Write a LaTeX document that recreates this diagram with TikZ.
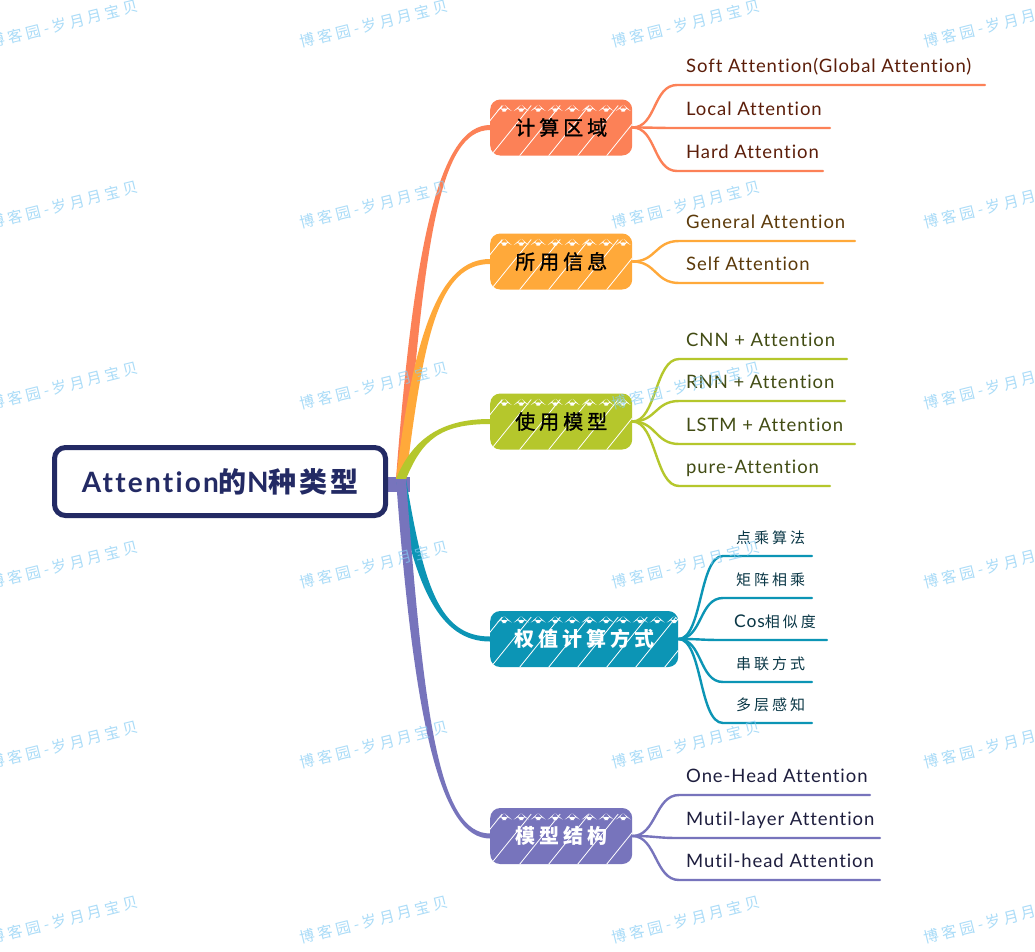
\documentclass[tikz,border=0pt]{standalone}
\usepackage{fontspec}
\setmainfont[Ligatures=NoCommon]{Lato}
\newfontfamily\cjk{Noto Sans CJK SC}
\newfontfamily\cjkw[LetterSpace=20]{Noto Sans CJK SC}
\newfontfamily\cjkm[LetterSpace=20,FakeBold=1.2]{Noto Sans CJK SC}
\newfontfamily\latw[LetterSpace=5,Ligatures=NoCommon]{Lato}
\newfontfamily\latr[LetterSpace=8,Ligatures=NoCommon]{Lato}
\newfontfamily\cjkr[LetterSpace=10]{Noto Sans CJK SC}
\newfontfamily\wmf[LetterSpace=22]{Noto Sans CJK SC}
\usetikzlibrary{calc}
\pgfdeclarelayer{bg}
\pgfdeclarelayer{fg}
\pgfsetlayers{bg,main,fg}
\definecolor{navy}{RGB}{35,42,100}
\definecolor{corange}{RGB}{252,129,87}
\definecolor{cyellow}{RGB}{255,169,58}
\definecolor{cgreen}{RGB}{181,199,44}
\definecolor{cteal}{RGB}{12,149,181}
\definecolor{cpurple}{RGB}{119,116,188}
\definecolor{torange}{RGB}{92,30,10}
\definecolor{tyellow}{RGB}{92,58,10}
\definecolor{tgreen}{RGB}{66,76,20}
\definecolor{tteal}{RGB}{10,55,70}
\definecolor{tpurple}{RGB}{30,30,62}
\definecolor{wmblue}{RGB}{134,205,245}
\newcommand\lf[9]{%
  \coordinate (s#1) at (#4,#5);
  \coordinate (e#1) at (#6,#5);
  \node[leaftext, text=#7] (t#1) at (#8,{#5-13}) {#9};
  \begin{pgfonlayer}{bg}
    \draw[leafline, #3] (#2.east) .. controls +(24,0) and +(-24,0) .. (s#1) -- (e#1);
  \end{pgfonlayer}
}
\begin{document}
\begin{tikzpicture}[x=1pt,y=-1pt,
  rootbox/.style={draw=navy, line width=5pt, fill=white, rounded corners=11pt,
    minimum width=331pt, minimum height=68pt, inner sep=0pt, text=navy,
    font=\fontsize{28}{32}\selectfont\bfseries},
  branchbox/.style={rounded corners=10pt, minimum width=142pt, minimum height=56pt,
    inner sep=0pt, anchor=west, font=\cjkm\fontsize{20}{24}\selectfont,
    path picture={
      \foreach \k in {0,...,10}{
        \fill[white] ([xshift=\k*17pt+6pt, yshift=-12pt]path picture bounding box.north west)
           -- ++(8pt,7pt) -- ++(8pt,-7pt) -- cycle;
      }
      \foreach \k in {0,...,8}{
        \draw[white, line width=0.8pt] ([xshift=\k*29pt-30pt, yshift=-2pt]path picture bounding box.south west)
           -- ++(42pt,52pt);
      }
    }},
  leaftext/.style={anchor=base west, inner sep=0pt, font=\latw\fontsize{18.5}{22}\selectfont},
  leafline/.style={line width=2.4pt, line cap=round},
  wm/.style={rotate=14, text=wmblue, opacity=0.7, font=\wmf\fontsize{15}{17}\selectfont}
]
\useasboundingbox (0,0) rectangle (1035,951);
\begin{pgfonlayer}{bg}
  \fill[white] (0,0) rectangle (1035,951);
\end{pgfonlayer}

% root
\node[rootbox] (root) at (220,481.5) {{\latr Attention}{\cjkr 的}{\latr N}{\cjkr 种类型}};

% branches
\node[branchbox, fill=corange] (b1) at (490,127.5) {计算区域};
\node[branchbox, fill=cyellow] (b2) at (490,261.5) {所用信息};
\node[branchbox, fill=cgreen]  (b3) at (490,421.5) {使用模型};
\node[branchbox, fill=cteal, minimum width=188pt, text=white, font=\cjkw\fontsize{20}{24}\selectfont\bfseries] (b4) at (490,639) {权值计算方式};
\node[branchbox, fill=cpurple, text=white, font=\cjkw\fontsize{20}{24}\selectfont\bfseries] (b5) at (490,836) {模型结构};

% trunks
\coordinate (hub) at (401,479);
\begin{pgfonlayer}{bg}
  \fill[cpurple] ([yshift=5pt]root.east) rectangle (410,492);
  \fill[corange] ([xshift=-5pt]hub) .. controls (414,240) and (440,125) .. ([yshift=2.5pt]b1.west)
     -- ([yshift=-2.5pt]b1.west) .. controls (440,130) and (424,240) .. ([xshift=5pt]hub) -- cycle;
  \fill[cyellow] ([xshift=-5pt]hub) .. controls (414,331) and (440,259) .. ([yshift=2.5pt]b2.west)
     -- ([yshift=-2.5pt]b2.west) .. controls (440,264) and (424,331) .. ([xshift=5pt]hub) -- cycle;
  \fill[cgreen] ([xshift=-5pt]hub) .. controls (412,440) and (440,419) .. ([yshift=2.5pt]b3.west)
     -- ([yshift=-2.5pt]b3.west) .. controls (440,424) and (422,440) .. ([xshift=5pt]hub) -- cycle;
  \fill[cteal] ([xshift=-5pt]hub) .. controls (414,588) and (440,641.5) .. ([yshift=-2.5pt]b4.west)
     -- ([yshift=2.5pt]b4.west) .. controls (440,636.5) and (424,588) .. ([xshift=5pt]hub) -- cycle;
  \fill[cpurple] ([xshift=-5pt]hub) .. controls (414,722) and (440,838.5) .. ([yshift=-2.5pt]b5.west)
     -- ([yshift=2.5pt]b5.west) .. controls (440,833.5) and (424,722) .. ([xshift=5pt]hub) -- cycle;
\end{pgfonlayer}

% leaves: id, branch, linecolor, sx, y, ex, textcolor, tx, text
\lf{11}{b1}{corange}{677}{85}{985}{torange}{686}{Soft Attention(Global Attention)}
\lf{12}{b1}{corange}{677}{128}{830}{torange}{686}{Local Attention}
\lf{13}{b1}{corange}{677}{171}{823}{torange}{686}{Hard Attention}

\lf{21}{b2}{cyellow}{679}{241}{855}{tyellow}{686}{General Attention}
\lf{22}{b2}{cyellow}{679}{283}{823}{tyellow}{686}{Self Attention}

\lf{31}{b3}{cgreen}{679}{359}{847}{tgreen}{686}{CNN + Attention}
\lf{32}{b3}{cgreen}{679}{401}{845}{tgreen}{686}{RNN + Attention}
\lf{33}{b3}{cgreen}{679}{444}{855}{tgreen}{686}{LSTM + Attention}
\lf{34}{b3}{cgreen}{679}{486}{830}{tgreen}{686}{pure-Attention}

\lf{41}{b4}{cteal}{723}{556}{812}{tteal}{736}{\cjkw\fontsize{15}{18}\selectfont 点乘算法}
\lf{42}{b4}{cteal}{723}{598}{812}{tteal}{736}{\cjkw\fontsize{15}{18}\selectfont 矩阵相乘}
\lf{43}{b4}{cteal}{723}{640}{827}{tteal}{734}{{\latw\fontsize{17.5}{20}\selectfont Cos}{\cjkw\fontsize{15}{18}\selectfont 相似度}}
\lf{44}{b4}{cteal}{723}{682}{812}{tteal}{736}{\cjkw\fontsize{15}{18}\selectfont 串联方式}
\lf{45}{b4}{cteal}{723}{723}{812}{tteal}{736}{\cjkw\fontsize{15}{18}\selectfont 多层感知}

\lf{51}{b5}{cpurple}{679}{795}{870}{tpurple}{686}{One-Head Attention}
\lf{52}{b5}{cpurple}{679}{838}{880}{tpurple}{686}{Mutil-layer Attention}
\lf{53}{b5}{cpurple}{679}{880}{880}{tpurple}{686}{Mutil-head Attention}

% watermarks
\begin{pgfonlayer}{fg}
  \foreach \wy [count=\r] in {24,205,386,565,745,920}{
    \foreach \wx [count=\c] in {64,374,686,998}{
      \node[wm] (w\r\c) at (\wx,\wy) {博客园-岁月月宝贝};
    }
  }
\end{pgfonlayer}
\end{tikzpicture}
\end{document}
